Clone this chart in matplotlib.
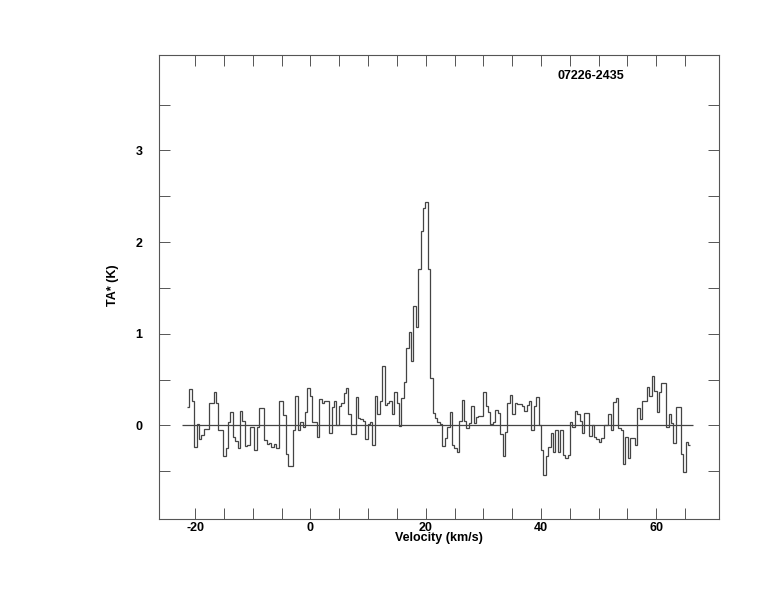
import matplotlib
matplotlib.use("Agg")

import numpy as np
import matplotlib.pyplot as plt
from matplotlib.ticker import MultipleLocator, FixedLocator

plt.rcParams["font.family"] = ["Liberation Sans", "DejaVu Sans"]
plt.rcParams["font.weight"] = "bold"
plt.rcParams["axes.unicode_minus"] = False

# spectrum: first channel edge and channel width (km/s)
v_start = -21.43
dv = 0.418

# antenna temperature per channel (K), read channel by channel
ta = [
    0.20, 0.40, 0.27, -0.23, 0.02, -0.15, -0.10, -0.04, -0.04, 0.25,
    0.25, 0.36, 0.25, -0.05, -0.05, -0.33, -0.25, 0.04, 0.15, -0.13,
    -0.17, -0.25, 0.16, 0.05, -0.22, -0.21, -0.02, -0.02, -0.27, -0.02,
    0.19, 0.19, -0.16, -0.20, -0.19, -0.24, -0.20, -0.25, 0.27, 0.27,
    0.11, -0.31, -0.44, -0.44, -0.05, 0.32, -0.05, 0.04, -0.02, 0.15,
    0.41, 0.32, 0.04, 0.04, -0.13,
    0.29, 0.25, 0.27, 0.27, -0.08, 0.20, 0.27, 0.01, 0.21, 0.25,
    0.35, 0.41, 0.13, -0.09, -0.09, 0.31, 0.08, 0.07, 0.05, -0.15,
    0.02, 0.04, -0.21, 0.32, 0.13, 0.27,
    0.65, 0.22, 0.24, 0.27, 0.13, 0.36, 0.24, -0.01,
    0.30, 0.47, 0.84, 1.02, 0.70, 1.30, 1.07, 1.71, 2.12, 2.37,
    2.44, 1.71,
    0.52, 0.14, 0.08, 0.04, 0.02, -0.22, -0.14, -0.02, 0.15, -0.21,
    -0.25, -0.29, 0.05, 0.28, 0.05, -0.03, 0.03, 0.21, 0.03, 0.09,
    0.10, 0.10, 0.36, 0.21, 0.15, 0.02, 0.04, 0.17, 0.14, -0.09,
    -0.33, -0.07, 0.25, 0.33, 0.13, 0.24, 0.23, 0.23, 0.21, 0.16,
    0.22, 0.27, -0.05, 0.21, 0.31, 0.00, -0.27, -0.54, -0.33, -0.23,
    -0.08, -0.29, -0.05, -0.29, -0.05, -0.32, -0.36, -0.32, 0.04, -0.02,
    0.16,
    0.13, 0.05, -0.08, 0.14, 0.14, -0.11, 0.00, -0.13, -0.15, -0.18,
    -0.14, 0.00, 0.00, 0.13, -0.05, 0.26, 0.30, -0.03, -0.05, -0.42,
    -0.13, -0.36, -0.14, -0.14, -0.21, 0.19, 0.07, 0.27, 0.27, 0.42,
    0.32, 0.54, 0.38, 0.15, 0.36, 0.46, 0.46, -0.02, 0.13, 0.03,
    -0.19, 0.20, 0.20, -0.31, -0.51, -0.18, -0.21,
]

source = "07226-2435"

edges = v_start + dv * np.arange(len(ta) + 1)

fig = plt.figure(figsize=(7.74, 6.12), dpi=100)
ax = fig.add_axes([0.2054, 0.152, 0.7235, 0.758])

line_col = "#444444"
ax.stairs(ta, edges, baseline=None, color=line_col, lw=0.9)
ax.hlines(0, edges[0] - 2 * dv, edges[-1] + dv, color=line_col, lw=0.9)

ax.set_xlim(-26.3, 70.9)
ax.set_ylim(-1.02, 4.04)

ax.xaxis.set_major_locator(MultipleLocator(20))
ax.xaxis.set_minor_locator(FixedLocator(np.arange(-20, 66, 5)))
ax.yaxis.set_major_locator(FixedLocator([0, 1, 2, 3]))
ax.yaxis.set_minor_locator(FixedLocator(np.arange(-0.5, 3.6, 0.5)))

ax.tick_params(which="both", direction="in", top=True, right=True,
               length=8, width=0.7, color="#555555")
ax.tick_params(axis="x", which="major", pad=2, labelsize=9)
ax.tick_params(axis="y", which="major", pad=12, labelsize=9)

for s in ax.spines.values():
    s.set_linewidth(0.8)
    s.set_color("#555555")

ax.set_xlabel("Velocity (km/s)", fontsize=9, fontweight="bold", labelpad=-1)
ax.set_ylabel("TA* (K)", fontsize=9, fontweight="bold")
ax.yaxis.set_label_coords(-0.0714, 0.504)

ax.text(0.7125, 0.955, source, transform=ax.transAxes, fontsize=9,
        fontweight="bold", ha="left", va="center")

fig.savefig("out.png", dpi=100)
